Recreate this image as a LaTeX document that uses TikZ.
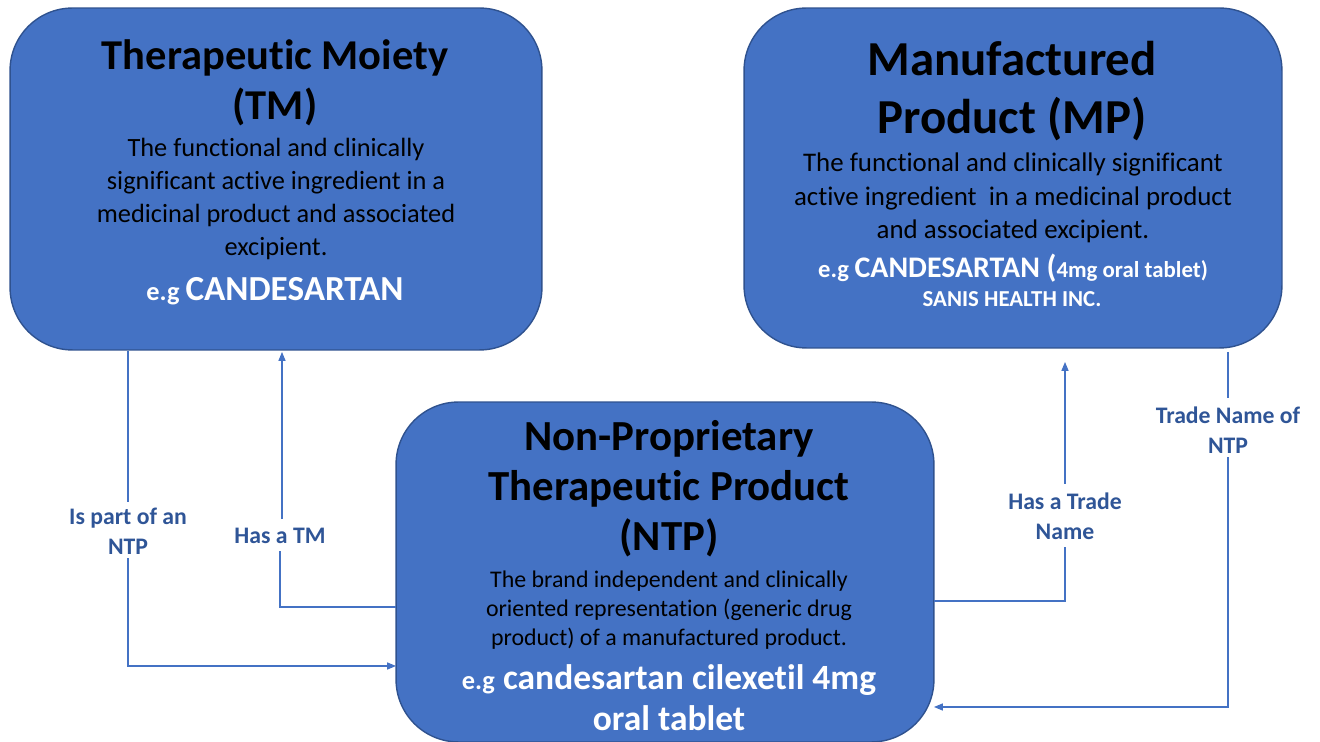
\documentclass[tikz,border=0pt]{standalone}
\usepackage{fontspec}
\setmainfont{Carlito}[Ligatures=NoCommon]
\usepackage{tikz}
\usetikzlibrary{positioning}
\usetikzlibrary{arrows.meta}
\definecolor{boxblue}{HTML}{4472C4}
\definecolor{boxedge}{HTML}{2F528F}
\definecolor{labelblue}{HTML}{2F5597}
\newcommand{\fsz}[2]{\fontsize{#1}{#2}\selectfont}
\tikzset{
	entity/.style = {draw=boxedge, line width=0.8pt, fill=boxblue, rounded corners=1.25cm,
		minimum width=10.7cm, minimum height=6.8cm, inner sep=0pt},
	txt/.style = {align=center, inner sep=0pt, text=black},
	eg/.style = {align=center, inner sep=0pt, text=white},
	rel/.style = {align=center, inner sep=0pt, text=labelblue, font=\fsz{13.5}{17}\bfseries},
	link/.style = {draw=boxblue, line width=0.6pt},
	arr/.style = {-{Triangle[length=5pt, width=4pt]}}
}

\begin{document}
\begin{tikzpicture}[x=0.02cm, y=-0.02cm]
		\useasboundingbox (0,0) rectangle (1320,742);
		% the three entities
		\node (tm) [entity, minimum width=10.64cm, minimum height=6.84cm] at (276,179) {};
		\node (mp) [entity, minimum width=10.76cm] at (1013,178) {};
		\node (ntp) [entity, minimum width=10.76cm] at (665,572) {};

		% therapeutic moiety
		\node (tmTitle) [txt, font=\fsz{24.2}{28.5}\bfseries] at (275,83) {Therapeutic Moiety\\(TM)};
		\node (tmText) [txt, font=\fsz{15}{18.7}] at (276,199)
			{The functional and clinically\\significant active ingredient in a\\medicinal product and associated\\excipient.};
		\node (tmEg) [eg, font=\bfseries] at (275,291) {\fsz{15}{18}e.g \fsz{20}{24}CANDESARTAN};

		% manufactured product
		\node (mpTitle) [txt, font=\fsz{27.8}{33}\bfseries] at (1012,91) {Manufactured\\Product (MP)};
		\node (mpText) [txt, font=\fsz{15.3}{19}] at (1013,198)
			{The functional and clinically significant\\active ingredient\ \ in a medicinal product\\and associated excipient.};
		\node (mpEg) [eg, font=\bfseries] at (1013,268)
			{\fsz{14}{17}e.g \fsz{17}{21}CANDESARTAN \fsz{18}{21}(\fsz{13}{16}4mg oral tablet)};
		\node (mpMaker) [eg, font=\fsz{13}{16}\bfseries] at (1012,299) {SANIS HEALTH INC.};

		% non-proprietary therapeutic product
		\node (ntpTitle) [txt, font=\fsz{24.4}{28.5}\bfseries] at (669,489) {Non-Proprietary\\Therapeutic Product\\(NTP)};
		\node (ntpText) [txt, font=\fsz{13.6}{16.5}] at (669,610)
			{The brand independent and clinically\\oriented representation (generic drug\\product) of a manufactured product.};
		\node (ntpEg) [eg, font=\fsz{20.2}{23.5}\bfseries] at (669,698)
			{{\fsz{15}{23.5}e.g} candesartan cilexetil 4mg\\oral tablet};

		% relation labels
		\node (isPart) [rel] at (128,531) {Is part of an\\NTP};
		\node (hasTm) [rel] at (280,536) {Has a TM};
		\node (hasTrade) [rel] at (1065,516) {Has a Trade\\Name};
		\node (tradeOf) [rel] at (1228,430) {Trade Name of\\NTP};

		\coordinate (partIn) at (396,666);
		\coordinate (tmOut) at (396,607);
		\coordinate (tmIn) at (282,352);
		\coordinate (tradeOut) at (934,601);
		\coordinate (tradeIn) at (1065,362);
		\coordinate (mpOut) at (1228,352);
		\coordinate (ntpIn) at (934,707);

		% connectors
		\draw[link] (tm.south -| isPart) -- ([yshift=3pt]isPart.north);
		\draw[link, arr] ([yshift=-2pt]isPart.south) |- (partIn);
		\draw[link] (tmOut) -| ([yshift=-4pt]hasTm.south);
		\draw[link, arr] ([yshift=5pt]hasTm.north -| tmIn) -- (tmIn);
		\draw[link] (tradeOut) -| ([yshift=-4pt]hasTrade.south);
		\draw[link, arr] ([yshift=5pt]hasTrade.north -| tradeIn) -- (tradeIn);
		\draw[link] (mpOut) -- ([yshift=5pt]tradeOf.north);
		\draw[link, arr] ([yshift=-2pt]tradeOf.south) |- (ntpIn);
	\end{tikzpicture}
\end{document}
